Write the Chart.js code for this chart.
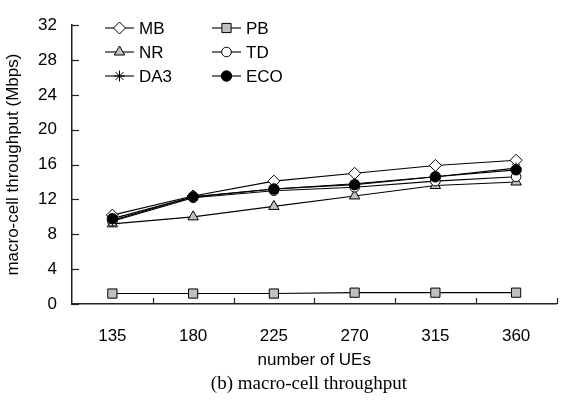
<!DOCTYPE html>
<html>
<head>
<meta charset="utf-8">
<script src="https://cdn.jsdelivr.net/npm/chart.js@4/dist/chart.umd.min.js"></script>
<style>
  html, body { margin: 0; padding: 0; background: #fff; }
  #wrap { width: 564px; height: 403px; position: relative; }
</style>
</head>
<body>
<div id="wrap"><canvas id="c" width="564" height="403"></canvas></div>
<script>
// ---- data ----
const categories = ['135', '180', '225', '270', '315', '360'];
const MB  = [10.2, 12.4, 14.1, 15.0, 15.9, 16.5];
const PB  = [1.2, 1.2, 1.2, 1.3, 1.3, 1.3];
const NR  = [9.2, 10.0, 11.2, 12.4, 13.6, 14.0];
const TD  = [9.5, 12.2, 13.0, 13.4, 14.1, 14.6];
const DA3 = [9.6, 12.3, 13.2, 13.8, 14.6, 15.6];
const ECO = [9.8, 12.3, 13.2, 13.7, 14.6, 15.4];
const yTicks = [0, 4, 8, 12, 16, 20, 24, 28, 32];
const xTitle = 'number of UEs';
const yTitle = 'macro-cell throughput (Mbps)';
const caption = '(b) macro-cell throughput';

const GRAY = '#c0c0c0';
function ds(label, data, style, fill, radius, order) {
  return {
    label, data, order,
    borderColor: '#000', borderWidth: 1.1,
    pointStyle: style, pointRadius: radius, pointHoverRadius: radius,
    pointBackgroundColor: fill, pointBorderColor: '#000', pointBorderWidth: 1,
    fill: false, tension: 0
  };
}
const datasets = [
  ds('MB', MB, 'rectRot', '#fff', 6, 2),
  ds('PB', PB, 'rect', GRAY, 6.5, 5),
  ds('NR', NR, 'triangle', GRAY, 6, 4),
  ds('TD', TD, 'circle', '#fff', 4.8, 3),
  ds('DA3', DA3, 'star', '#000', 5.5, 1),
  ds('ECO', ECO, 'circle', '#000', 5.2, 0)
];

const FONT = "'Liberation Sans', Arial, sans-serif";

const innerTicks = {
  id: 'innerTicks',
  afterDraw(chart) {
    const ctx = chart.ctx, x = chart.scales.x, y = chart.scales.y;
    ctx.save();
    ctx.strokeStyle = '#222'; ctx.lineWidth = 1.2;
    const n = categories.length;
    for (let i = 1; i <= n; i++) {
      const px = Math.round(x.left + (x.right - x.left) * i / n) + 0.5;
      ctx.beginPath(); ctx.moveTo(px, y.bottom); ctx.lineTo(px, y.bottom - 6); ctx.stroke();
    }
    yTicks.forEach(v => {
      const py = Math.round(y.getPixelForValue(v)) + 0.5;
      ctx.beginPath(); ctx.moveTo(x.left, py); ctx.lineTo(x.left + 7, py); ctx.stroke();
    });
    ctx.restore();
  }
};

const legendPlugin = {
  id: 'legend2col',
  afterDraw(chart) {
    const ctx = chart.ctx;
    const cols = [105, 212];
    const rows = [28, 52, 76];
    const order = [0, 1, 2, 3, 4, 5];
    ctx.save();
    order.forEach((di, k) => {
      const d = chart.data.datasets[di];
      const x0 = cols[k % 2], yy = rows[Math.floor(k / 2)];
      ctx.strokeStyle = '#000'; ctx.lineWidth = 1.1;
      ctx.beginPath(); ctx.moveTo(x0, yy); ctx.lineTo(x0 + 29, yy); ctx.stroke();
      ctx.fillStyle = d.pointBackgroundColor; ctx.strokeStyle = '#000'; ctx.lineWidth = 1;
      Chart.helpers.drawPoint(ctx, { pointStyle: d.pointStyle, radius: d.pointRadius, rotation: 0, borderWidth: 1 }, x0 + 14.5, yy);
      ctx.fillStyle = '#000';
      ctx.font = "17px " + FONT;
      ctx.textBaseline = 'middle'; ctx.textAlign = 'left';
      ctx.fillText(d.label, x0 + 34, yy + 1);
    });
    ctx.restore();
  }
};

const captionPlugin = {
  id: 'caption',
  afterDraw(chart) {
    const ctx = chart.ctx;
    ctx.save();
    ctx.fillStyle = '#000';
    ctx.font = "19px 'Liberation Serif', 'Times New Roman', serif";
    ctx.textAlign = 'center'; ctx.textBaseline = 'middle';
    ctx.fillText(caption, 309, 384);
    ctx.restore();
  }
};

new Chart(document.getElementById('c'), {
  type: 'line',
  data: { labels: categories, datasets },
  options: {
    responsive: false, animation: false,
    layout: { padding: { left: 0, right: 1, top: 16.5, bottom: 31 } },
    plugins: { legend: { display: false }, tooltip: { enabled: false } },
    scales: {
      x: {
        type: 'category', offset: true,
        grid: { display: false, drawTicks: false, offset: true },
        border: { display: true, color: '#222', width: 1.5 },
        ticks: { color: '#000', font: { family: FONT, size: 17 }, padding: 22, maxRotation: 0 },
        title: { display: true, text: xTitle, color: '#000', font: { family: FONT, size: 17 }, padding: { top: 0, bottom: 1 } },
        afterFit(s) { s.height = 68; }
      },
      y: {
        min: 0, max: 32,
        afterBuildTicks(s) { s.ticks = yTicks.map(v => ({ value: v })); },
        grid: { display: false, drawTicks: false },
        border: { display: true, color: '#222', width: 1.5 },
        ticks: { color: '#000', font: { family: FONT, size: 17 }, padding: 15 },
        title: { display: true, text: yTitle, color: '#000', font: { family: FONT, size: 17 }, padding: { top: 3, bottom: 0 } },
        afterFit(s) { s.width = 72; }
      }
    }
  },
  plugins: [innerTicks, legendPlugin, captionPlugin]
});
</script>
</body>
</html>
